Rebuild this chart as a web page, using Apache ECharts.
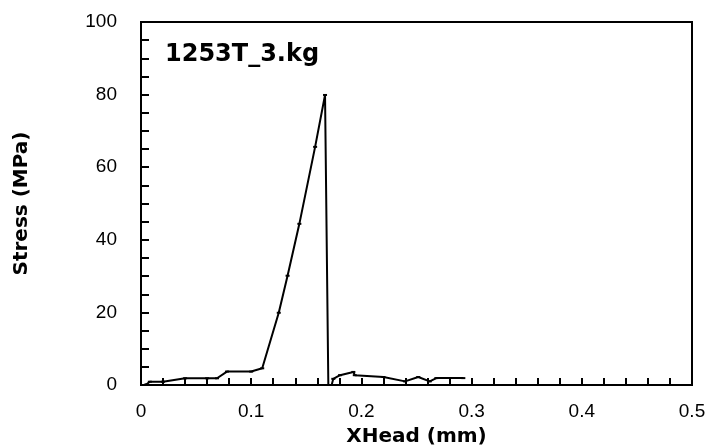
<!DOCTYPE html>
<html>
<head>
<meta charset="utf-8">
<script src="https://cdn.jsdelivr.net/npm/echarts@6/dist/echarts.min.js"></script>
<style>html,body{margin:0;padding:0;background:#fff;}#c{width:707px;height:447px;}</style>
</head>
<body>
<div id="c"></div>
<script>
var chartTitle = '1253T_3.kg';
var xName = 'XHead (mm)';
var yName = 'Stress (MPa)';
var xHead = [0.005, 0.008, 0.020, 0.040, 0.060, 0.069, 0.078, 0.100, 0.110, 0.125, 0.133, 0.1437, 0.158, 0.167, 0.170, 0.173, 0.1745, 0.1806, 0.1927, 0.194, 0.220, 0.2396, 0.2516, 0.262, 0.268, 0.2925];
var stress = [0.2, 0.9, 0.9, 1.85, 1.85, 1.85, 3.7, 3.7, 4.6, 19.9, 30.1, 44.4, 65.6, 79.9, 0, 0, 1.7, 2.7, 3.6, 2.7, 2.2, 1.0, 2.2, 1.0, 1.9, 1.9];

var pts = xHead.map(function (x, i) { return [x, stress[i]]; });
var chart = echarts.init(document.getElementById('c'));
var font = 'Liberation Sans, Arial, sans-serif';
var boldFont = 'DejaVu Sans, Liberation Sans, sans-serif';
chart.setOption({
  animation: false,
  backgroundColor: '#fff',
  grid: { left: 141, right: 15, top: 22, bottom: 62, containLabel: false, outerBoundsMode: 'none', show: true, borderColor: '#000', borderWidth: 2, backgroundColor: 'transparent' },
  title: { text: chartTitle, left: 165, top: 43, padding: 0, textStyle: { fontFamily: boldFont, fontWeight: 'bold', fontSize: 24, color: '#000' } },
  xAxis: {
    type: 'value', min: 0, max: 0.5, interval: 0.1,
    name: xName, nameLocation: 'middle', nameGap: 42,
    nameTextStyle: { fontFamily: boldFont, fontWeight: 'bold', fontSize: 20, color: '#000' },
    axisLine: { show: true, lineStyle: { color: '#000', width: 2 } },
    axisTick: { show: true, inside: true, length: 7, lineStyle: { color: '#000', width: 2 } },
    minorTick: { show: true, splitNumber: 5, length: 7, lineStyle: { color: '#000', width: 2 } },
    splitLine: { show: false },
    axisLabel: { fontFamily: font, fontSize: 19, color: '#000', margin: 17 }
  },
  yAxis: {
    type: 'value', min: 0, max: 100, interval: 20,
    name: yName, nameLocation: 'middle', nameGap: 109, nameRotate: 90,
    nameTextStyle: { fontFamily: boldFont, fontWeight: 'bold', fontSize: 20, color: '#000' },
    axisLine: { show: true, lineStyle: { color: '#000', width: 2 } },
    axisTick: { show: true, inside: true, length: 8, lineStyle: { color: '#000', width: 2 } },
    minorTick: { show: true, splitNumber: 4, length: 8, lineStyle: { color: '#000', width: 2 } },
    splitLine: { show: false },
    axisLabel: { fontFamily: font, fontSize: 19, color: '#000', margin: 24 }
  },
  series: [{
    type: 'line', data: pts,
    symbol: 'rect', symbolSize: [4, 2], showSymbol: true,
    itemStyle: { color: '#000' },
    lineStyle: { color: '#000', width: 2 }
  }]
});
</script>
</body>
</html>
